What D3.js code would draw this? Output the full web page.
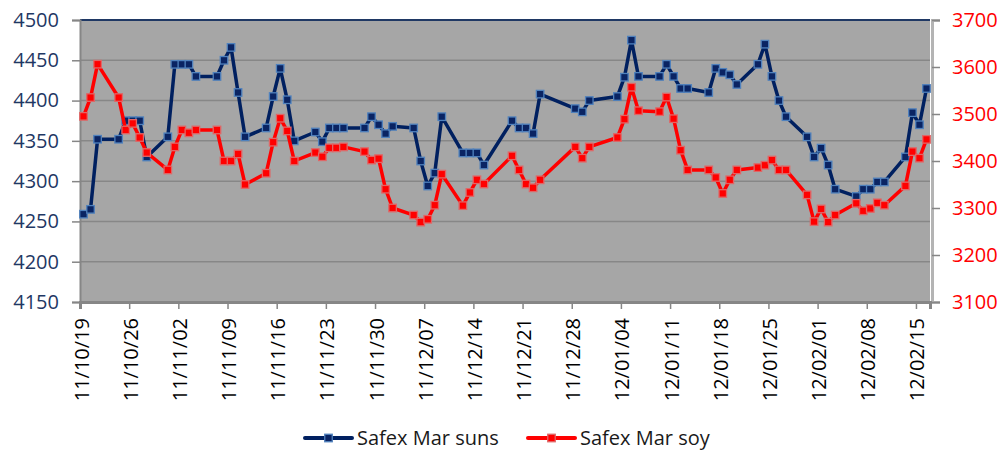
<!DOCTYPE html>
<html>
<head>
<meta charset="utf-8">
<script src="https://cdn.jsdelivr.net/npm/d3@7"></script>
<style>
  body { margin: 0; background: #fff; }
  svg { display: block; font-family: "Open Sans", sans-serif; }
</style>
</head>
<body>
<div id="chart"></div>
<script>
// trading days, yy/mm/dd
const dates = [
  "11/10/19", "11/10/20", "11/10/21",
  "11/10/24", "11/10/25", "11/10/26", "11/10/27", "11/10/28",
  "11/10/31", "11/11/01", "11/11/02", "11/11/03", "11/11/04",
  "11/11/07", "11/11/08", "11/11/09", "11/11/10", "11/11/11",
  "11/11/14", "11/11/15", "11/11/16", "11/11/17", "11/11/18",
  "11/11/21", "11/11/22", "11/11/23", "11/11/24", "11/11/25",
  "11/11/28", "11/11/29", "11/11/30", "11/12/01", "11/12/02",
  "11/12/05", "11/12/06", "11/12/07", "11/12/08", "11/12/09",
  "11/12/12", "11/12/13", "11/12/14", "11/12/15",
  "11/12/19", "11/12/20", "11/12/21", "11/12/22", "11/12/23",
  "11/12/28", "11/12/29", "11/12/30",
  "12/01/03", "12/01/04", "12/01/05", "12/01/06",
  "12/01/09", "12/01/10", "12/01/11", "12/01/12", "12/01/13",
  "12/01/16", "12/01/17", "12/01/18", "12/01/19", "12/01/20",
  "12/01/23", "12/01/24", "12/01/25", "12/01/26", "12/01/27",
  "12/01/30", "12/01/31", "12/02/01", "12/02/02", "12/02/03",
  "12/02/06", "12/02/07", "12/02/08", "12/02/09", "12/02/10",
  "12/02/13", "12/02/14", "12/02/15", "12/02/16",
];

const suns = [
  4259, 4265, 4352,
  4352, 4375, 4375, 4375, 4330,
  4355, 4445, 4445, 4445, 4430,
  4430, 4450, 4466, 4410, 4355,
  4366, 4405, 4440, 4401, 4350,
  4361, 4349, 4366, 4366, 4366,
  4366, 4380, 4370, 4359, 4368,
  4366, 4325, 4294, 4310, 4380,
  4335, 4335, 4335, 4320,
  4375, 4366, 4366, 4359, 4408,
  4390, 4386, 4400,
  4405, 4429, 4475, 4430,
  4430, 4445, 4430, 4415, 4415,
  4410, 4440, 4435, 4432, 4420,
  4445, 4470, 4430, 4400, 4380,
  4355, 4330, 4341, 4320, 4290,
  4281, 4290, 4290, 4299, 4299,
  4330, 4385, 4370, 4415,
];

const soy = [
  3495, 3535, 3606,
  3535, 3466, 3480, 3450, 3418,
  3381, 3430, 3466, 3460, 3466,
  3466, 3400, 3400, 3415, 3350,
  3374, 3440, 3491, 3464, 3400,
  3418, 3409, 3428, 3428, 3430,
  3420, 3402, 3405, 3340, 3300,
  3285, 3270, 3276, 3306, 3372,
  3305, 3333, 3360, 3351,
  3411, 3381, 3351, 3343, 3360,
  3430, 3406, 3430,
  3450, 3489, 3557, 3507,
  3505, 3536, 3490, 3423, 3381,
  3381, 3365, 3331, 3360, 3381,
  3386, 3391, 3402, 3381, 3381,
  3328, 3271, 3298, 3270, 3285,
  3310, 3294, 3299, 3311, 3306,
  3347, 3420, 3406, 3446,
];

const leftTicks = [4150, 4200, 4250, 4300, 4350, 4400, 4450, 4500];
const rightTicks = [3100, 3200, 3300, 3400, 3500, 3600, 3700];
const tickDates = [
  "11/10/19", "11/10/26", "11/11/02", "11/11/09", "11/11/16", "11/11/23",
  "11/11/30", "11/12/07", "11/12/14", "11/12/21", "11/12/28", "12/01/04",
  "12/01/11", "12/01/18", "12/01/25", "12/02/01", "12/02/08", "12/02/15",
];
const seriesNames = ["Safex Mar suns", "Safex Mar soy"];

const parse = d3.utcParse("%y/%m/%d");
const fmt = d3.utcFormat("%y/%m/%d");

const size = { width: 1003, height: 452 };
const plot = { left: 80, right: 930, top: 20, bottom: 302 };

const svg = d3
  .select("#chart")
  .append("svg")
  .attr("width", size.width)
  .attr("height", size.height);

const x = d3
  .scaleUtc()
  .domain([parse("11/10/19"), parse("12/02/17")])
  .range([plot.left, plot.right]);

// points sit in the middle of their day slot
const xMid = (d) => x(d3.utcHour.offset(d, 12));

const yL = d3
  .scaleLinear()
  .domain([4150, 4500])
  .range([plot.bottom, plot.top]);

const yR = d3
  .scaleLinear()
  .domain([3100, 3700])
  .range([plot.bottom, plot.top]);

// plot background
svg
  .append("rect")
  .attr("x", plot.left)
  .attr("y", plot.top)
  .attr("width", plot.right - plot.left)
  .attr("height", plot.bottom - plot.top)
  .attr("fill", "#a6a6a6");

// gridlines
svg
  .append("g")
  .selectAll("line")
  .data(leftTicks.slice(1, -1))
  .enter()
  .append("line")
  .attr("x1", plot.left)
  .attr("x2", plot.right)
  .attr("y1", (d) => yL(d))
  .attr("y2", (d) => yL(d))
  .attr("stroke", "#878787")
  .attr("stroke-width", 1.5);

svg
  .append("line")
  .attr("x1", plot.left)
  .attr("x2", plot.right)
  .attr("y1", plot.top)
  .attr("y2", plot.top)
  .attr("stroke", "#1f3864")
  .attr("stroke-width", 2);

// left axis
const leftAxis = svg
  .append("g")
  .attr("transform", `translate(${plot.left},0)`)
  .call(
    d3.axisLeft(yL).tickValues(leftTicks).tickSize(8).tickPadding(13).tickFormat(d3.format("d"))
  );
leftAxis.select(".domain").attr("stroke", "#868686").attr("stroke-width", 2);
leftAxis.selectAll(".tick line").attr("stroke", "#868686").attr("stroke-width", 1.5);
leftAxis
  .selectAll("text")
  .style("font-family", "Open Sans")
  .style("font-size", "20px")
  .attr("fill", "#1f3864");

// right axis
const rightAxis = svg
  .append("g")
  .attr("transform", `translate(${plot.right + 2},0)`)
  .call(
    d3.axisRight(yR).tickValues(rightTicks).tickSize(8).tickPadding(12).tickFormat(d3.format("d"))
  );
rightAxis.select(".domain").attr("stroke", "#b4b4b4").attr("stroke-width", 3);
rightAxis.selectAll(".tick line").attr("stroke", "#868686").attr("stroke-width", 1.5);
rightAxis
  .selectAll("text")
  .style("font-family", "Open Sans")
  .style("font-size", "20px")
  .attr("fill", "#ff0000");

// bottom axis
const bottomAxis = svg
  .append("g")
  .attr("transform", `translate(0,${plot.bottom})`)
  .call(
    d3.axisBottom(x).tickValues(tickDates.map(parse)).tickSize(7).tickFormat(fmt)
  );
bottomAxis.select(".domain").attr("stroke", "#868686").attr("stroke-width", 3);
bottomAxis.selectAll(".tick line").attr("stroke", "#868686").attr("stroke-width", 1.5);
bottomAxis
  .selectAll("text")
  .style("font-family", "Open Sans")
  .style("font-size", "20px")
  .attr("fill", "#000")
  .attr("text-anchor", "end")
  .attr("transform", "translate(1,16) rotate(-90)")
  .attr("x", 0)
  .attr("y", 0)
  .attr("dy", "0.35em");

const data = dates.map((d, i) => ({ date: parse(d), suns: suns[i], soy: soy[i] }));

const series = [
  { key: "suns", y: yL, line: "#002060", fill: "#0a2463", edge: "#4f81bd" },
  { key: "soy", y: yR, line: "#ff0000", fill: "#ff0000", edge: "#e06666" },
];

const mark = 7.5;

series.forEach((s) => {
  const line = d3
    .line()
    .x((d) => xMid(d.date))
    .y((d) => s.y(d[s.key]));

  svg
    .append("path")
    .datum(data)
    .attr("d", line)
    .attr("fill", "none")
    .attr("stroke", s.line)
    .attr("stroke-width", 3.5)
    .attr("stroke-linejoin", "round");

  svg
    .append("g")
    .selectAll("rect")
    .data(data)
    .enter()
    .append("rect")
    .attr("x", (d) => xMid(d.date) - mark / 2)
    .attr("y", (d) => s.y(d[s.key]) - mark / 2)
    .attr("width", mark)
    .attr("height", mark)
    .attr("fill", s.fill)
    .attr("stroke", s.edge)
    .attr("stroke-width", 1.3);
});

// legend
const legendX = [305, 528];
const legend = svg
  .append("g")
  .selectAll("g")
  .data(series)
  .enter()
  .append("g")
  .attr("transform", (d, i) => `translate(${legendX[i]},438)`);

legend
  .append("line")
  .attr("x1", 0)
  .attr("x2", 47)
  .attr("stroke", (d) => d.line)
  .attr("stroke-width", 4)
  .attr("stroke-linecap", "round");

legend
  .append("rect")
  .attr("x", 23.5 - mark / 2)
  .attr("y", -mark / 2)
  .attr("width", mark)
  .attr("height", mark)
  .attr("fill", (d) => d.fill)
  .attr("stroke", (d) => d.edge)
  .attr("stroke-width", 1.3);

legend
  .append("text")
  .attr("x", 52)
  .attr("dy", "0.35em")
  .style("font-size", "20px")
  .attr("fill", "#1a1a1a")
  .text((d, i) => seriesNames[i]);
</script>
</body>
</html>
